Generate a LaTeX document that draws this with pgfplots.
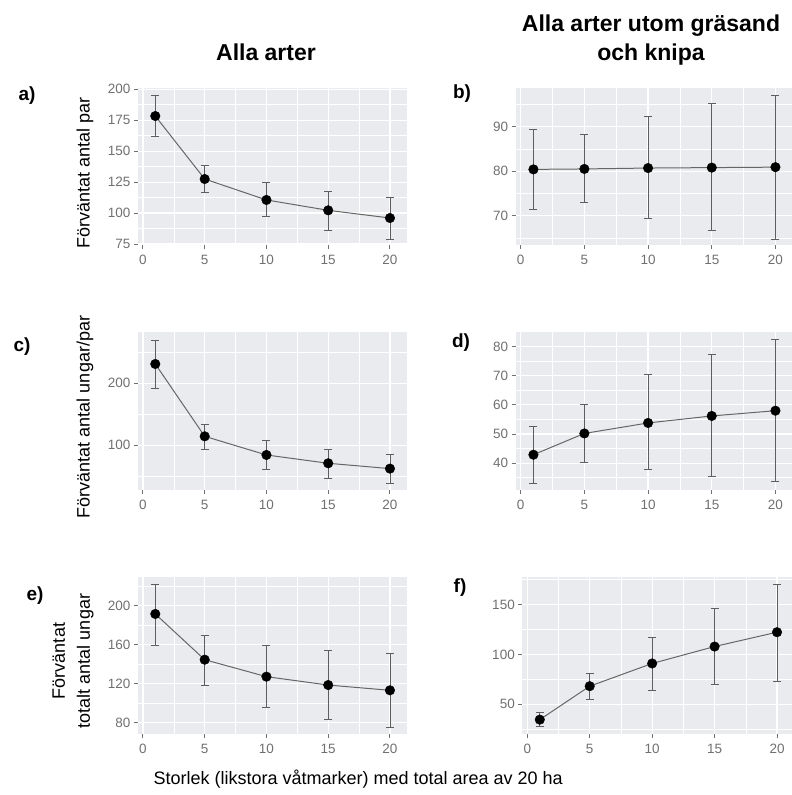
\documentclass[border=0pt]{standalone}
\usepackage{fontspec}
\setmainfont{Liberation Sans}
\usepackage{pgfplots}
\usepackage{pgfplotstable}
\pgfplotsset{compat=1.18}

\definecolor{panelbg}{HTML}{EAEBEE}
\definecolor{tickgray}{HTML}{707070}
\definecolor{linegray}{HTML}{666666}
\definecolor{errgray}{HTML}{5E5E5E}

% columns: x, point, lower and upper end of the error bar
\pgfplotstableread{
x y lo hi
1 178.4 161.7 195.4
5 127.5 116.5 138.3
10 110.6 97.1 124.6
15 102.2 85.8 117.8
20 96.0 78.8 112.7
}\tabA
\pgfplotstableread{
x y lo hi
1 80.4 71.3 89.4
5 80.5 73.0 88.3
10 80.7 69.3 92.2
15 80.8 66.6 95.2
20 80.9 64.7 97.1
}\tabB
\pgfplotstableread{
x y lo hi
1 231.2 191.9 269.9
5 114.5 94.1 134.4
10 84.4 61.3 108.1
15 71.0 46.8 94.1
20 62.4 38.7 85.0
}\tabC
\pgfplotstableread{
x y lo hi
1 42.9 33.1 52.5
5 50.2 40.2 60.3
10 53.8 37.7 70.5
15 56.2 35.4 77.3
20 58.0 33.6 82.3
}\tabD
\pgfplotstableread{
x y lo hi
1 191.5 159.3 222.2
5 144.6 118.6 169.2
10 127.2 96.1 159.3
15 118.6 83.8 154.5
20 113.2 75.2 150.8
}\tabE
\pgfplotstableread{
x y lo hi
1 34.6 27.3 42.0
5 68.2 54.5 80.9
10 91.0 64.2 117.1
15 108.0 69.6 146.3
20 122.4 73.1 170.7
}\tabF

\pgfplotsset{
  gg/.style={
    scale only axis,
    anchor=south west,
    axis background/.style={fill=panelbg},
    axis x line*=bottom, axis y line*=left,
    axis line style={draw=none},
    xmin=-0.4, xmax=21.38,
    xtick={0,5,10,15,20},
    minor xtick={2.5,7.5,12.5,17.5},
    grid=both,
    major grid style={white, line width=1.2pt},
    minor grid style={white, line width=0.6pt},
    tick align=outside,
    major tick length=4pt,
    minor tick length=0pt,
    tick style={tickgray, line width=1pt},
    tick label style={font=\fontsize{13.5}{13.5}\selectfont, text=tickgray},
    xticklabel style={yshift=-3pt},
    /pgf/number format/assume math mode=true,
    clip=false,
  },
}
\newcommand{\panel}[1]{%
  \addplot[draw=none, mark=none, forget plot,
    error bars/.cd, y dir=both, y explicit, error mark=-,
    error bar style={draw=errgray, line width=0.9pt},
    error mark options={draw=errgray, line width=0.9pt, mark size=4pt, rotate=90}]
    table[x=x, y=y, y error plus expr=\thisrow{hi}-\thisrow{y},
          y error minus expr=\thisrow{y}-\thisrow{lo}] {#1};
  \addplot[draw=linegray, line width=1pt, mark=none] table[x=x, y=y] {#1};
  \addplot[only marks, mark=*, mark size=4.8pt, black] table[x=x, y=y] {#1};
}

\begin{document}
\begin{tikzpicture}[x=1pt, y=1pt]
\useasboundingbox (0,0) rectangle (792,795);

% headers
\node[font=\fontsize{23}{28}\selectfont\bfseries, anchor=base] at (266,734) {Alla arter};
\node[font=\fontsize{23}{28}\selectfont\bfseries, anchor=base] at (651,763) {Alla arter utom gräsand};
\node[font=\fontsize{23}{28}\selectfont\bfseries, anchor=base] at (651,734) {och knipa};

% panel letters
\foreach \lab/\px/\py in {a)/27/699, b)/462/701, c)/22/448, d)/461/452, e)/35/199, f)/460/207}
  \node[font=\fontsize{19}{19}\selectfont\bfseries] at (\px,\py) {\lab};

% y labels
\node[rotate=90, font=\fontsize{18}{18}\selectfont] at (85,622) {Förväntat antal par};
\node[rotate=90, font=\fontsize{18}{18}\selectfont] at (85,378) {Förväntat antal ungar/par};
\node[rotate=90, align=center, font=\fontsize{18}{25}\selectfont] at (73,134) {Förväntat\\totalt antal ungar};

% x label
\node[anchor=base west, font=\fontsize{18}{18}\selectfont] at (150,10) {Storlek (likstora våtmarker) med total area av 20 ha};

% a)
\begin{axis}[gg, at={(138pt,550pt)}, width=269pt, height=157pt,
  ymin=74.2, ymax=201.05,
  ytick={75,100,125,150,175,200},
  minor ytick={87.5,112.5,137.5,162.5,187.5}]
\panel{\tabA}
\end{axis}

% b)
\begin{axis}[gg, at={(515.6pt,550pt)}, width=276.4pt, height=157pt,
  xmax=21.3,
  ymin=63.4, ymax=98.7,
  ytick={70,80,90},
  minor ytick={65,75,85,95}]
\panel{\tabB}
\end{axis}

% c)
\begin{axis}[gg, at={(138pt,305pt)}, width=269pt, height=158pt,
  ymin=27.9, ymax=282.8,
  ytick={100,200},
  minor ytick={50,150,250}]
\panel{\tabC}
\end{axis}

% d)
\begin{axis}[gg, at={(515.6pt,305pt)}, width=276.4pt, height=158pt,
  xmax=21.3,
  ymin=30.8, ymax=85.0,
  ytick={40,50,60,70,80},
  minor ytick={35,45,55,65,75}]
\panel{\tabD}
\end{axis}

% e)
\begin{axis}[gg, at={(138pt,61pt)}, width=269pt, height=157pt,
  ymin=68.4, ymax=229.4,
  ytick={80,120,160,200},
  minor ytick={100,140,180,220}]
\panel{\tabE}
\end{axis}

% f)
\begin{axis}[gg, at={(522.3pt,61pt)}, width=269.7pt, height=157pt,
  xmax=21.2,
  ymin=20.2, ymax=177.8,
  ytick={50,100,150},
  minor ytick={25,75,125,175}]
\panel{\tabF}
\end{axis}
\end{tikzpicture}
\end{document}
